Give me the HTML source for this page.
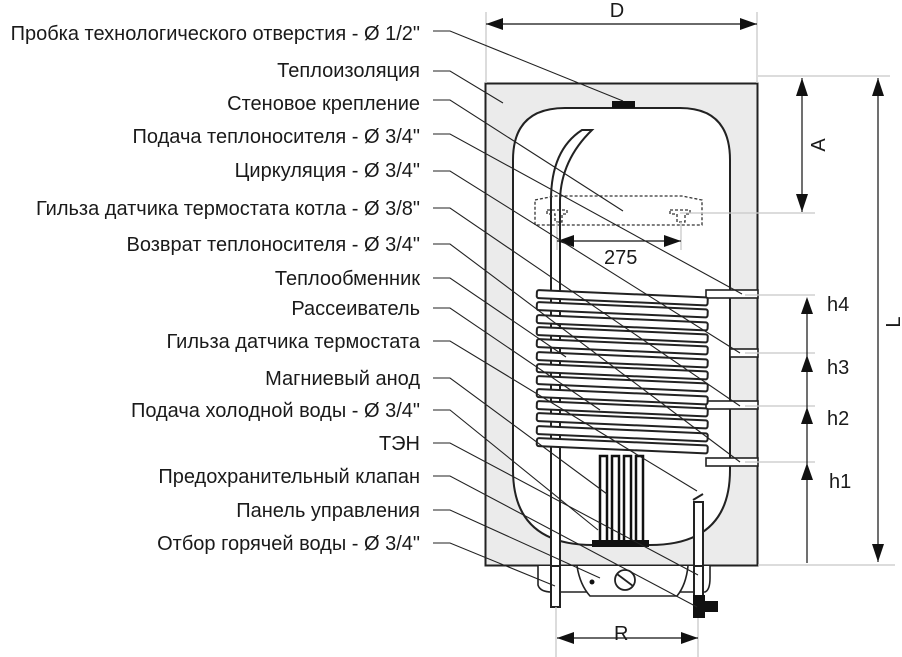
<!DOCTYPE html>
<html><head><meta charset="utf-8"><style>
html,body{margin:0;padding:0;background:#fff;}
svg{display:block;}
text{font-family:"Liberation Sans",sans-serif;font-size:20px;fill:#1a1a1a;}
</style></head><body>
<svg width="902" height="657" viewBox="0 0 902 657" xmlns="http://www.w3.org/2000/svg">
<!-- insulation -->
<rect x="485.5" y="83.5" width="272" height="482" fill="#ebebeb" stroke="#222" stroke-width="2"/>
<!-- tank -->
<path d="M513,470 L513,160 Q513,108 565,108 L680,108 Q730,108 730,160 L730,470 Q730,545 650,545 L593,545 Q513,545 513,470 Z" fill="#fff" stroke="#222" stroke-width="2"/>
<rect x="612" y="101" width="23" height="7" fill="#111"/>
<!-- outlet pipes -->
<g fill="#fff" stroke="#222" stroke-width="1.6">
<rect x="706" y="290" width="52" height="8"/>
<rect x="730" y="349" width="28" height="8"/>
<rect x="706" y="401" width="52" height="8"/>
<rect x="706" y="458" width="52" height="8"/>
</g>
<!-- hot water pipe -->
<path d="M551,607 L551,200 Q551,150 582,130 L592,130 Q561,160 560,200 L560,607 Z" fill="#fff" stroke="#222" stroke-width="2"/>
<!-- coil fins -->
<g fill="#fff" stroke="#222" stroke-width="2">
<rect x="537" y="290" width="171" height="8" rx="2" transform="rotate(2.5 537 290)"/>
<rect x="537" y="302" width="171" height="8" rx="2" transform="rotate(2.5 537 302)"/>
<rect x="537" y="315" width="171" height="8" rx="2" transform="rotate(2.5 537 315)"/>
<rect x="537" y="327" width="171" height="8" rx="2" transform="rotate(2.5 537 327)"/>
<rect x="537" y="339" width="171" height="8" rx="2" transform="rotate(2.5 537 339)"/>
<rect x="537" y="352" width="171" height="8" rx="2" transform="rotate(2.5 537 352)"/>
<rect x="537" y="364" width="171" height="8" rx="2" transform="rotate(2.5 537 364)"/>
<rect x="537" y="376" width="171" height="8" rx="2" transform="rotate(2.5 537 376)"/>
<rect x="537" y="389" width="171" height="8" rx="2" transform="rotate(2.5 537 389)"/>
<rect x="537" y="401" width="171" height="8" rx="2" transform="rotate(2.5 537 401)"/>
<rect x="537" y="413" width="171" height="8" rx="2" transform="rotate(2.5 537 413)"/>
<rect x="537" y="426" width="171" height="8" rx="2" transform="rotate(2.5 537 426)"/>
<rect x="537" y="438" width="171" height="8" rx="2" transform="rotate(2.5 537 438)"/>
</g>
<!-- heater rods -->
<g fill="#fff" stroke="#111" stroke-width="2.5">
<rect x="600" y="456" width="7" height="86"/>
<rect x="612" y="456" width="7" height="86"/>
<rect x="624" y="456" width="7" height="86"/>
<rect x="636" y="456" width="7" height="86"/>
</g>
<rect x="592" y="540" width="57" height="7" fill="#111"/>
<!-- thermostat sleeve pipe -->
<rect x="694" y="502" width="9" height="100" fill="#fff" stroke="#222" stroke-width="2"/>
<path d="M693,500 L703,494" stroke="#222" stroke-width="2"/>
<!-- bottom panel -->
<path d="M538,566 L538,585 Q540,592 552,592 L705,592 Q710,590 710,578 L710,566" fill="#fff" stroke="#222" stroke-width="1.6"/>
<path d="M577,566 Q580,585 590,596 L677,596 Q686,585 688,566" fill="#fff" stroke="#222" stroke-width="1.6"/>
<rect x="551" y="566" width="9" height="41" fill="#fff" stroke="#222" stroke-width="2"/>
<rect x="694" y="566" width="9" height="36" fill="#fff" stroke="#222" stroke-width="2"/>
<circle cx="592" cy="582" r="2.5" fill="#111"/>
<circle cx="625" cy="580" r="10" fill="#fff" stroke="#222" stroke-width="1.8"/>
<path d="M617,574 L633,586" stroke="#222" stroke-width="1.8"/>
<path d="M693,595 L705,595 L705,601 L718,601 L718,612 L705,612 L705,618 L693,618 Z" fill="#111"/>
<!-- wall bracket dashed -->
<g fill="none" stroke="#333" stroke-width="1.3" stroke-dasharray="3,2">
<path d="M535,200 L555,196 L682,196 L702,200 L702,225 L535,225 Z"/>
<path d="M547,210 L567,210 L567,214 L562,214 L562,222 L555,222 L555,214 L547,214 Z"/>
<path d="M670,210 L690,210 L690,214 L685,214 L685,222 L677,222 L677,214 L670,214 Z"/>
</g>
<!-- dimension lines grey -->
<g stroke="#c8c8c8" stroke-width="1.3" fill="none">
<line x1="486" y1="12" x2="486" y2="83"/>
<line x1="757" y1="12" x2="757" y2="83"/>
<line x1="758" y1="76" x2="890" y2="76"/>
<line x1="758" y1="565" x2="895" y2="565"/>
<line x1="680" y1="213" x2="815" y2="213"/>
<line x1="745" y1="295" x2="815" y2="295"/>
<line x1="745" y1="353" x2="815" y2="353"/>
<line x1="745" y1="406" x2="815" y2="406"/>
<line x1="745" y1="462" x2="815" y2="462"/>
<line x1="557" y1="222" x2="557" y2="250"/>
<line x1="681" y1="222" x2="681" y2="250"/>
<line x1="556" y1="607" x2="556" y2="657"/>
<line x1="698" y1="618" x2="698" y2="657"/>
</g>
<g stroke="#111" stroke-width="1.2" fill="none">
<line x1="486" y1="24" x2="757" y2="24"/>
<line x1="802" y1="78" x2="802" y2="212"/>
<line x1="878" y1="78" x2="878" y2="562"/>
<line x1="807" y1="300" x2="807" y2="563"/>
<line x1="557" y1="241" x2="681" y2="241"/>
<line x1="557" y1="638" x2="698" y2="638"/>
</g>
<g fill="#111">
<path d="M486,24 L503,18 L503,30 Z"/><path d="M757,24 L740,18 L740,30 Z"/>
<path d="M802,78 L796,96 L808,96 Z"/><path d="M802,212 L796,194 L808,194 Z"/>
<path d="M878,78 L872,96 L884,96 Z"/><path d="M878,562 L872,544 L884,544 Z"/>
<path d="M807,297 L801,314 L813,314 Z"/><path d="M807,355 L801,372 L813,372 Z"/>
<path d="M807,407 L801,424 L813,424 Z"/><path d="M807,463 L801,480 L813,480 Z"/>
<path d="M557,241 L574,235 L574,247 Z"/><path d="M681,241 L664,235 L664,247 Z"/>
<path d="M557,638 L574,632 L574,644 Z"/><path d="M698,638 L681,632 L681,644 Z"/>
</g>
<text x="617" y="17" text-anchor="middle">D</text>
<text x="604" y="264">275</text>
<text x="614" y="640">R</text>
<text x="827" y="311">h4</text>
<text x="827" y="374">h3</text>
<text x="827" y="425">h2</text>
<text x="829" y="488">h1</text>
<text transform="translate(825,145) rotate(-90)" text-anchor="middle">A</text>
<text transform="translate(900,322) rotate(-90)" text-anchor="middle">L</text>
<!-- leaders -->
<g stroke="#222" stroke-width="1.1" fill="none">
<polyline points="433,31 450,31 623,101"/>
<polyline points="433,71 450,71 503,103"/>
<polyline points="433,100 450,100 623,211"/>
<polyline points="433,134 450,134 742,294"/>
<polyline points="433,171 450,171 740,353"/>
<polyline points="433,208 450,208 740,406"/>
<polyline points="433,244 450,244 740,462"/>
<polyline points="433,278 450,278 566,357"/>
<polyline points="433,308 450,308 600,410"/>
<polyline points="433,341 450,341 697,491"/>
<polyline points="433,378 450,378 607,494"/>
<polyline points="433,410 450,410 598,530"/>
<polyline points="433,443 450,443 698,575"/>
<polyline points="433,476 450,476 697,607"/>
<polyline points="433,510 450,510 600,578"/>
<polyline points="433,543 450,543 555,586"/>
</g>
<g text-anchor="end">
<text x="420" y="40">Пробка технологического отверстия - Ø 1/2"</text>
<text x="420" y="77">Теплоизоляция</text>
<text x="420" y="110">Стеновое крепление</text>
<text x="420" y="143">Подача теплоносителя - Ø 3/4"</text>
<text x="420" y="177">Циркуляция - Ø 3/4"</text>
<text x="420" y="215">Гильза датчика термостата котла - Ø 3/8"</text>
<text x="420" y="251">Возврат теплоносителя - Ø 3/4"</text>
<text x="420" y="285">Теплообменник</text>
<text x="420" y="315">Рассеиватель</text>
<text x="420" y="348">Гильза датчика термостата</text>
<text x="420" y="385">Магниевый анод</text>
<text x="420" y="417">Подача холодной воды - Ø 3/4"</text>
<text x="420" y="450">ТЭН</text>
<text x="420" y="483">Предохранительный клапан</text>
<text x="420" y="517">Панель управления</text>
<text x="420" y="550">Отбор горячей воды - Ø 3/4"</text>
</g>
</svg>
</body></html>
